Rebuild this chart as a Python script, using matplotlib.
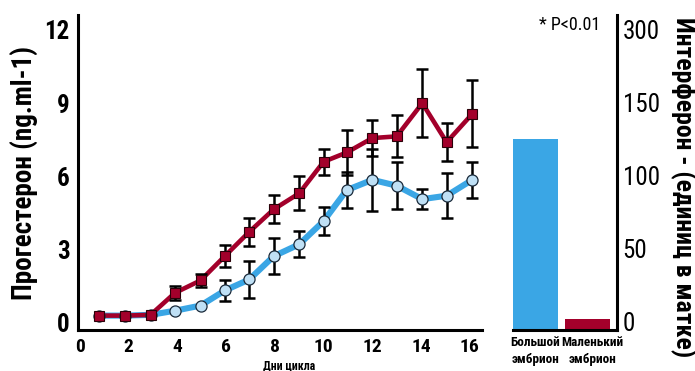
import matplotlib
matplotlib.use("Agg")
from matplotlib import pyplot as plt

# progesterone, days of cycle
days = [0.8, 1.85, 2.9, 3.9, 4.95, 5.95, 6.95, 7.95, 9.0, 10.0, 10.95, 12.0, 13.0, 14.05, 15.05, 16.1]
large = [0.3, 0.3, 0.33, 0.5, 0.71, 1.33, 1.78, 2.73, 3.22, 4.17, 5.44, 5.86, 5.62, 5.07, 5.21, 5.86]
large_err = [None, None, None, None, None, 0.42, 0.77, 0.73, 0.54, 0.57, 0.74, 1.26, 0.96, 0.41, 0.91, 0.73]
small = [0.3, 0.3, 0.33, 1.23, 1.74, 2.74, 3.73, 4.65, 5.31, 6.6, 6.98, 7.57, 7.64, 9.0, 7.4, 8.56]
small_err = [None, None, None, 0.28, 0.27, 0.46, 0.58, 0.57, 0.7, 0.53, 0.93, 0.73, 0.86, 1.39, 0.78, 1.37]

x_ticks = [0, 2, 4, 6, 8, 10, 12, 14, 16]
y_ticks = [0, 3, 6, 9, 12]

# interferon bars
bar_labels = ["Большой\nэмбрион", "Маленький\nэмбрион"]
bar_values = [125, 2]
bar_ticks = [0, 50, 100, 150, 200]
bar_tick_labels = ["0", "50", "100", "150", "300"]

BLUE = "#3AA6E5"
RED = "#A3002B"
LIGHT = "#BFE0F5"

plt.rcParams['font.family'] = ['Roboto Condensed', 'DejaVu Sans']

fig = plt.figure(figsize=(6.95, 3.71), dpi=100)
ax = fig.add_axes([0.1122, 0.1105, 0.5813, 0.849])

ax.plot(days, large, color=BLUE, lw=4.4, zorder=2, solid_capstyle='round')
ax.plot(days, small, color=RED, lw=3.3, zorder=3)


def err_pts(xs, ys, es):
    px, py, pe = [], [], []
    for x, y, e in zip(xs, ys, es):
        if e is not None:
            px.append(x)
            py.append(y)
            pe.append(e)
    return px, py, pe


for ys, es in [(large, large_err), (small, small_err)]:
    px, py, pe = err_pts(days, ys, es)
    ax.errorbar(px, py, yerr=pe, fmt='none', ecolor='black', elinewidth=1.8,
                capsize=4.5, capthick=1.8, zorder=4)

ax.plot(days, large, 'o', ms=8, mfc=LIGHT, mec='#1a2a3a', mew=0.9, zorder=5)
ax.plot(days, small, 's', ms=6.5, mfc=RED, mec='#2a0008', mew=0.8, zorder=6)

ax.set_xlim(-0.08, 16.5)
ax.set_ylim(-0.29, 12.61)
ax.set_xticks(x_ticks)
ax.set_yticks(y_ticks)
ax.tick_params(length=0, pad=6)
for lab in ax.get_xticklabels():
    lab.set_fontsize(14)
    lab.set_fontweight('bold')
for lab in ax.get_yticklabels():
    lab.set_fontsize(18)
    lab.set_fontweight('bold')
for s in ['top', 'right']:
    ax.spines[s].set_visible(False)
for s in ['left', 'bottom']:
    ax.spines[s].set_linewidth(2.2)
ax.set_ylabel("Прогестерон (ng.ml-1)", fontsize=19.5, fontweight='bold', labelpad=4)
ax.text(8.6, -1.75, "Дни цикла", fontsize=8.5, fontweight='bold', ha='center', va='center')

# bar panel
bx = fig.add_axes([0.7377, 0.1105, 0.150, 0.849])
bottom = -5.5
bx.bar([0, 1], [v - bottom for v in bar_values], bottom=bottom, width=0.86,
       color=[BLUE, RED])
bx.set_xlim(-0.43, 1.564)
bx.set_ylim(bottom, 210)
bx.set_xticks([0, 1.1])
bx.set_xticklabels(bar_labels, fontsize=9.5, fontweight='bold', linespacing=1.45)
bx.set_yticks(bar_ticks)
bx.set_yticklabels(bar_tick_labels, fontsize=18)
bx.yaxis.tick_right()
bx.tick_params(length=0, pad=4)
for s in ['top', 'left']:
    bx.spines[s].set_visible(False)
for s in ['right', 'bottom']:
    bx.spines[s].set_linewidth(2.2)
fig.text(683 / 695, 0.496, "Интерферон - (единиц в матке)", fontsize=18.5,
         fontweight='bold', rotation=-90, ha='center', va='center')
bx.text(0.65, 203, "* P<0.01", fontsize=13, ha='center', va='center')

fig.savefig("out.png", dpi=100)
